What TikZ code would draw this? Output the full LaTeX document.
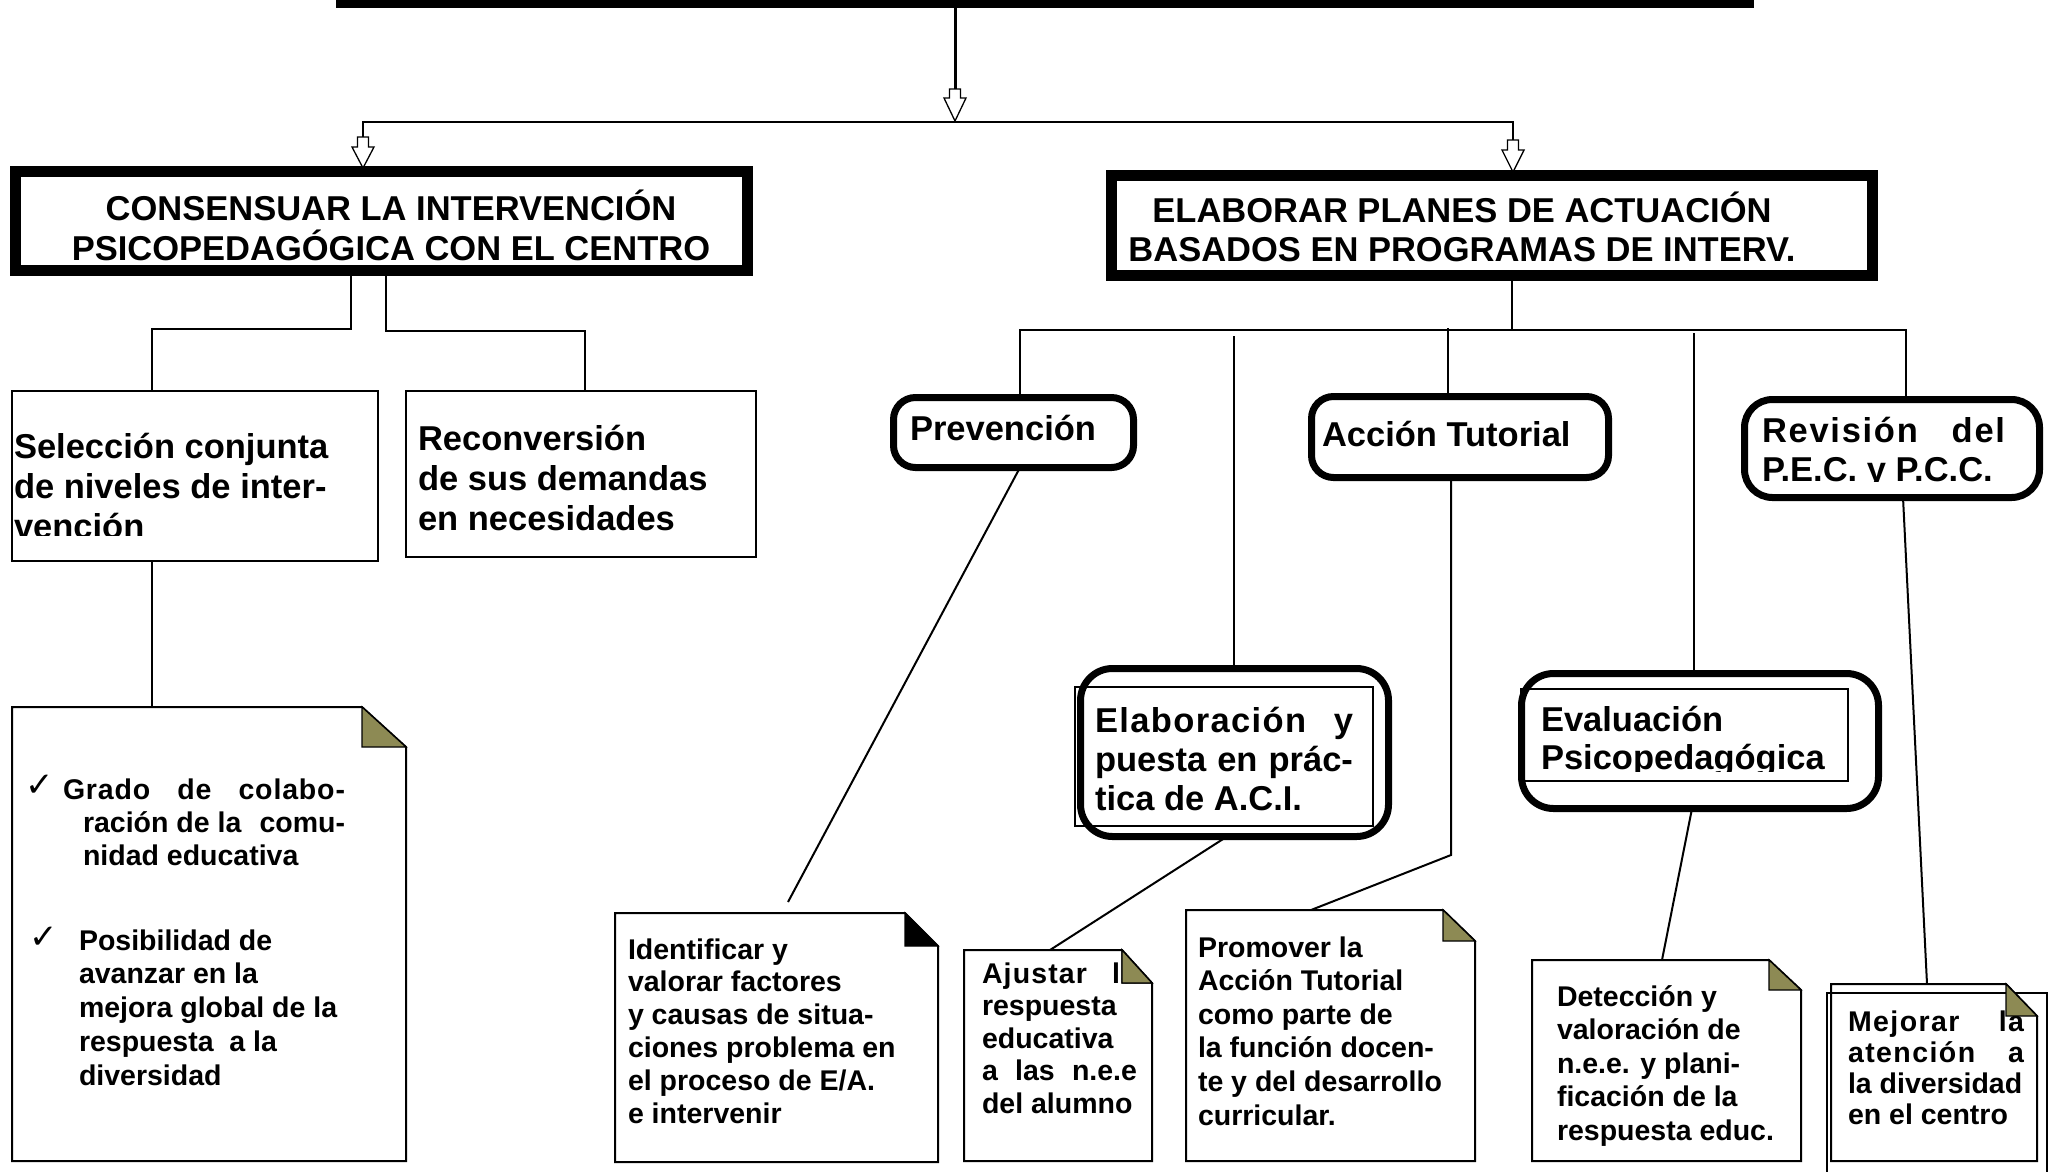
\documentclass[tikz,border=0pt]{standalone}
\usepackage{fontspec}
\setmainfont{Liberation Sans}
\newfontfamily\chkfont{DejaVu Sans}
\definecolor{foldolive}{RGB}{141,138,84}
\newcommand\Lft[2]{\vtop{\baselineskip=#1pt\lineskiplimit=-1000pt\halign{##\hfil\cr#2\crcr}}}
\newcommand\Ctr[2]{\vtop{\baselineskip=#1pt\lineskiplimit=-1000pt\halign{\hfil##\hfil\cr#2\crcr}}}
\newcommand\spaced[2]{{\addfontfeature{LetterSpace=#1}#2}}
\newcommand\hollowarr[3]{\draw[hollow] ([xshift=-5.5pt,yshift=#2pt]#1) -- ([xshift=5.5pt,yshift=#2pt]#1) -- ([xshift=5.5pt,yshift=#3pt]#1) -- ([xshift=11pt,yshift=#3pt]#1) -- (#1) -- ([xshift=-11pt,yshift=#3pt]#1) -- ([xshift=-5.5pt,yshift=#3pt]#1) -- cycle;}
\newcommand\notefold[4]{%
  \draw[line width=2pt, fill=white] (#1.north west) -- ([xshift=-#2pt]#1.north east) -- ([yshift=-#3pt]#1.north east) -- (#1.south east) -- (#1.south west) -- cycle;
  \draw[line width=1.3pt, fill=#4] ([xshift=-#2pt]#1.north east) -- ([xshift=-#2pt,yshift=-#3pt]#1.north east) -- ([yshift=-#3pt]#1.north east) -- cycle;}
\tikzset{
  conn/.style={line width=2pt},
  bigbox/.style={draw, line width=11pt, fill=white},
  rbox/.style={draw, line width=7pt, rounded corners=22pt, fill=white},
  plainbox/.style={draw, line width=2pt, fill=white},
  hollow/.style={draw, line width=1.3pt, fill=white},
  bigtxt/.style={font=\bfseries\fontsize{34.5}{40}\selectfont},
  smalltxt/.style={font=\bfseries\fontsize{28.5}{33}\selectfont},
  chk/.style={font=\chkfont\fontsize{34}{34}\selectfont},
  ghost/.style={inner sep=0pt}
}
\begin{document}
\begin{tikzpicture}[x=1pt, y=-1pt, every node/.style={inner sep=0pt, outer sep=0pt}]
\path[use as bounding box, fill=white] (0,0) rectangle (2058,1171);

% ---- boxes ----
\node[bigbox, line width=9pt, minimum width=1409pt, minimum height=59pt] (top) at (1045,-26) {};
\node[bigbox, minimum width=732pt, minimum height=99pt] (cons) at (381.5,221) {};
\node[bigbox, minimum width=761pt, minimum height=100pt] (elab) at (1492,225.5) {};
\node[plainbox, minimum width=366pt, minimum height=170pt] (sel) at (195,476) {};
\node[plainbox, minimum width=350pt, minimum height=166pt] (recon) at (581,474) {};
\node[rbox, minimum width=240pt, minimum height=70pt] (prev) at (1013.5,432.5) {};
\node[rbox, minimum width=297pt, minimum height=81pt] (acc) at (1460,437) {};
\node[rbox, rounded corners=28pt, minimum width=295pt, minimum height=98pt] (rev) at (1892,448.5) {};
\node[rbox, rounded corners=32pt, minimum width=308pt, minimum height=168pt] (aci) at (1234.5,752.5) {};
\node[draw, line width=1.5pt, minimum width=298pt, minimum height=139pt] (acii) at (1224,756.5) {};
\node[rbox, rounded corners=32pt, minimum width=357pt, minimum height=135pt] (eval) at (1700,741) {};
\node[draw, line width=1.5pt, minimum width=327pt, minimum height=92pt] (evali) at (1684.5,735) {};

% note boxes (outlines drawn below)
\node[ghost, minimum width=394pt, minimum height=454pt] (grado) at (209,934) {};
\node[ghost, minimum width=323pt, minimum height=249pt] (ident) at (776.5,1037.5) {};
\node[ghost, minimum width=188pt, minimum height=211pt] (ajus) at (1058,1055.5) {};
\node[ghost, minimum width=289pt, minimum height=251pt] (prom) at (1330.5,1035.5) {};
\node[ghost, minimum width=269pt, minimum height=201pt] (detec) at (1666.5,1060.5) {};
\node[ghost, minimum width=206pt, minimum height=177pt] (mejA) at (1934,1072.5) {};
\node[draw, line width=2pt, minimum width=220pt, minimum height=217pt] (mejB) at (1937,1101.5) {};

\notefold{grado}{44}{40}{foldolive}
\notefold{ident}{33}{33}{black}
\notefold{ajus}{30}{33}{foldolive}
\notefold{prom}{32}{31}{foldolive}
\notefold{detec}{32}{30}{foldolive}
\draw[line width=2pt] (mejA.north west) -- ([xshift=-31pt]mejA.north east) -- ([yshift=-32pt]mejA.north east) -- (mejA.south east) -- (mejA.south west) -- cycle;

% ---- top arrows ----
\coordinate (tipM) at (955,121);
\coordinate (tipL) at (363,168);
\coordinate (tipR) at (1513,172);
\coordinate (hL) at (363,122);
\coordinate (hR) at (1513,122);
\draw[line width=3pt] (top.south -| tipM) -- ([yshift=32pt]tipM);
\draw[line width=2.5pt] ([yshift=31pt]tipL) -- (hL) -- (hR) -- ([yshift=32pt]tipR);
\hollowarr{tipM}{32}{23}
\hollowarr{tipL}{31}{21}
\hollowarr{tipR}{32}{22}

% ---- left branch ----
\coordinate (j1) at (351,329); \coordinate (j2) at (152,329);
\coordinate (j3) at (386,331); \coordinate (j4) at (585,331);
\draw[conn] (cons.south -| j1) -- (j1) -- (j2) -- (sel.north -| j2);
\draw[conn] (cons.south -| j3) -- (j3) -- (j4) -- (recon.north -| j4);
\draw[conn] (sel.south -| j2) -- (grado.north -| j2);

% ---- right branch ----
\coordinate (k0) at (1512,330); \coordinate (kL) at (1020,330); \coordinate (kR) at (1906,330);
\coordinate (k1) at (1234,336); \coordinate (k2) at (1448,328); \coordinate (k3) at (1694,333);
\draw[conn] (elab.south -| k0) -- (k0);
\draw[conn] (prev.north -| kL) -- (kL) -- (kR) -- (rev.north -| kR);
\draw[conn] (k1) -- (aci.north -| k1);
\draw[conn] (k2) -- (acc.north -| k2);
\draw[conn] (k3) -- (eval.north -| k3);

\coordinate (p1) at (788,902);
\draw[conn] (prev.south -| kL) -- (p1);
\coordinate (a0) at (1451,855); \coordinate (a1) at (1311,0);
\draw[conn] (acc.south -| a0) -- (a0) -- (prom.north -| a1);
\coordinate (b0) at (1227,0); \coordinate (b1) at (1050,0);
\draw[conn] (aci.south -| b0) -- (ajus.north -| b1);
\coordinate (e0) at (1692,0); \coordinate (e1) at (1662,0);
\draw[conn] (eval.south -| e0) -- (detec.north -| e1);
\coordinate (r0) at (1903,0); \coordinate (r1) at (1927,0);
\draw[conn] (rev.south -| r0) -- (mejA.north -| r1);

% ---- big texts ----
\node[bigtxt, anchor=base] (tcons) at (391,220) {\Ctr{40}{CONSENSUAR LA INTERVENCIÓN\cr PSICOPEDAGÓGICA CON EL CENTRO}};
\node[bigtxt, anchor=base] (telab) at (1462,222) {\Ctr{39}{ELABORAR PLANES DE ACTUACIÓN\cr BASADOS EN PROGRAMAS DE INTERV.}};
\begin{scope}
\clip (11,390) rectangle (379,535);
\node[bigtxt, anchor=base west] (tsel) at (14,458) {\Lft{40}{Selección conjunta\cr de niveles de inter-\cr vención}};
\end{scope}
\node[bigtxt, anchor=base west] (trecon) at (418,450) {\Lft{40}{Reconversión\cr de sus demandas\cr en necesidades}};
\node[bigtxt, anchor=base west] (tprev) at (910,440) {Prevención};
\node[bigtxt, anchor=base west] (tacc) at (1322,446) {Acción Tutorial};
\begin{scope}
\clip (1741,396) rectangle (2043,481.5);
\node[bigtxt, anchor=base west] (trev) at (1762,442) {\Lft{39}{\hbox to 243pt{\spaced{5}{Revisión}\hfil\spaced{5}{del}}\cr P.E.C. y P.C.C.}};
\end{scope}
\node[bigtxt, anchor=base west] (taci) at (1095,732) {\Lft{39}{\hbox to 258pt{\spaced{4}{Elaboración}\hfil y}\cr \hbox to 258pt{puesta en prác-}\cr tica de A.C.I.}};
\begin{scope}
\clip (1521,689) rectangle (1848,771);
\node[bigtxt, anchor=base west] (teval) at (1541,731) {\Lft{38}{Evaluación\cr Psicopedagógica}};
\end{scope}

% ---- small texts ----
\node[chk, anchor=base west] (chk1) at (25,796) {✓};
\node[chk, anchor=base west] (chk2) at (29,948) {✓};
\node[smalltxt, anchor=base west] (tgr1) at (63,799) {\Lft{33}{\hbox to 282pt{\spaced{3}{Grado}\hfil\spaced{3}{de}\hfil\spaced{3}{colabo-}}\cr \hskip20pt\hbox to 262pt{ración de la\hfil comu-}\cr \hskip20pt nidad educativa}};
\node[smalltxt, anchor=base west] (tgr2) at (79,950) {\Lft{33.75}{Posibilidad de\cr avanzar en la\cr mejora global de la\cr respuesta\ \ a la\cr diversidad}};
\node[smalltxt, anchor=base west] (tident) at (628,959) {\Lft{32.8}{Identificar y\cr valorar factores\cr y causas de situa-\cr ciones problema en\cr el proceso de E/A.\cr e intervenir}};
\node[smalltxt, anchor=base west] (tajus) at (982,983) {\Lft{32.5}{\hbox to 155pt{\spaced{4}{Ajustar}\hfil\spaced{4}{la}}\cr respuesta\cr educativa\cr \hbox to 155pt{a\hfil las\hfil n.e.e}\cr del alumno}};
\node[smalltxt, anchor=base west] (tprom) at (1198,957) {\Lft{33.6}{Promover la\cr Acción Tutorial\cr como parte de\cr la función docen-\cr te y del desarrollo\cr curricular.}};
\node[smalltxt, anchor=base west] (tdetec) at (1557,1006) {\Lft{33.5}{Detección y\cr valoración de\cr n.e.e. y plani-\cr ficación de la\cr respuesta educ.}};
\node[smalltxt, anchor=base west] (tmej) at (1848,1031) {\Lft{31.3}{\hbox to 176pt{\spaced{5}{Mejorar}\hfil\spaced{5}{la}}\cr \hbox to 176pt{\spaced{5}{atención}\hfil a}\cr la diversidad\cr en el centro}};

% folds drawn over text
\draw[line width=1.3pt, fill=foldolive] ([xshift=-30pt]ajus.north east) -- ([xshift=-30pt,yshift=-33pt]ajus.north east) -- ([yshift=-33pt]ajus.north east) -- cycle;
\draw[line width=1.3pt, fill=foldolive] ([xshift=-31pt]mejA.north east) -- ([xshift=-31pt,yshift=-32pt]mejA.north east) -- ([yshift=-32pt]mejA.north east) -- cycle;
\end{tikzpicture}
\end{document}
